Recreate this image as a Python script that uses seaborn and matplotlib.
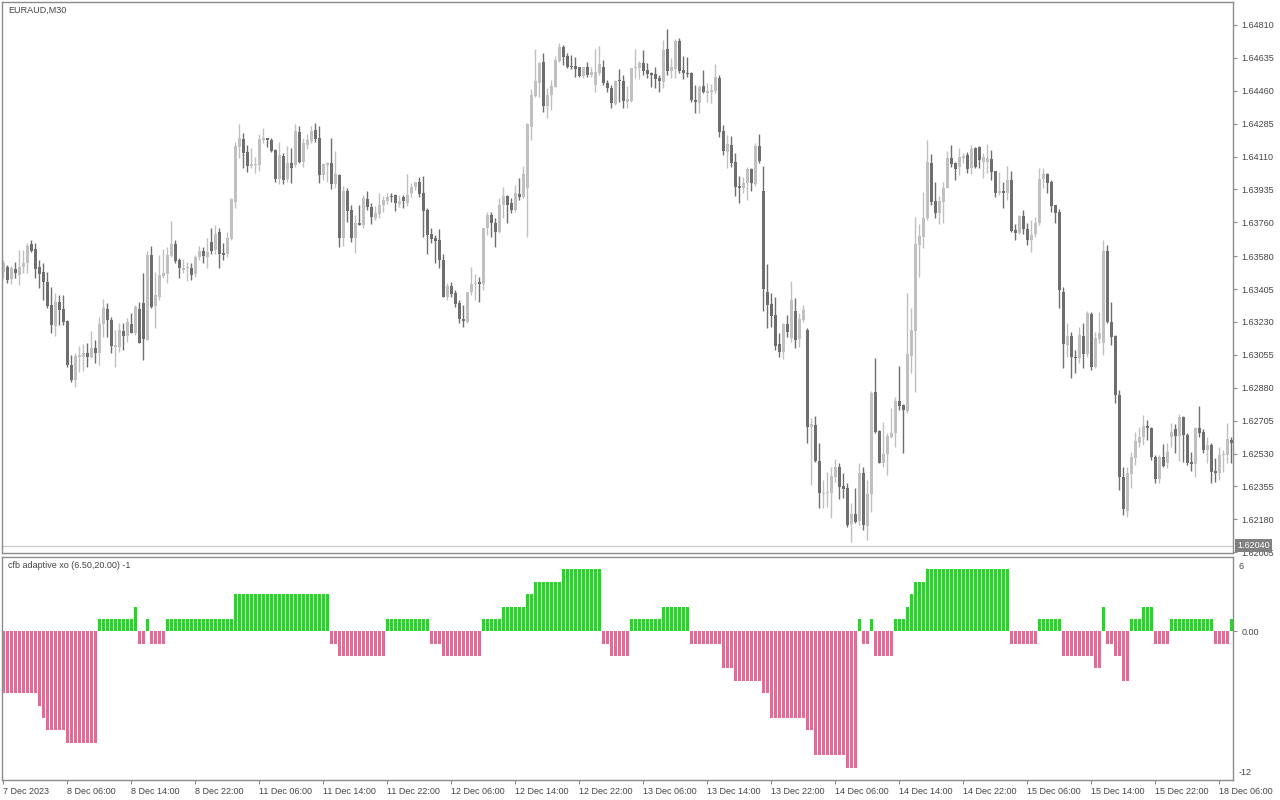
import numpy as np
import pandas as pd
import matplotlib
matplotlib.use('Agg')
import matplotlib.pyplot as plt
import matplotlib.transforms as mtransforms
import seaborn as sns

# ===================================================================
# Data : EURAUD M30 candles, oldest first
# ===================================================================

OPEN = [
    1.63496, 1.63523, 1.63459, 1.63512, 1.63480, 1.63523, 1.63544, 1.63645, 1.63618, 1.63523,
    1.63496, 1.63442, 1.63320, 1.63209, 1.63336, 1.63299, 1.63236, 1.63001, 1.62921, 1.63044,
    1.63044, 1.63065, 1.63044, 1.63092, 1.63065, 1.63220, 1.63299, 1.63241, 1.63098, 1.63098,
    1.63182, 1.63155, 1.63220, 1.63171, 1.63299, 1.63331, 1.63135, 1.63586, 1.63315, 1.63363,
    1.63475, 1.63486, 1.63581, 1.63645, 1.63560, 1.63507, 1.63518, 1.63518, 1.63486, 1.63576,
    1.63608, 1.63576, 1.63655, 1.63613, 1.63708, 1.63597, 1.63592, 1.63671, 1.63868, 1.64161,
    1.64203, 1.64134, 1.64060, 1.64065, 1.64065, 1.64198, 1.64209, 1.64198, 1.64145, 1.63990,
    1.64113, 1.63990, 1.64076, 1.64065, 1.64240, 1.64081, 1.64172, 1.64193, 1.64251, 1.64209,
    1.64012, 1.64065, 1.64076, 1.63964, 1.64012, 1.63677, 1.63927, 1.63826, 1.63677, 1.63757,
    1.63746, 1.63884, 1.63842, 1.63783, 1.63805, 1.63852, 1.63874, 1.63900, 1.63905, 1.63858,
    1.63895, 1.63863, 1.63916, 1.63948, 1.63974, 1.63916, 1.63826, 1.63698, 1.63677, 1.63666,
    1.63560, 1.63363, 1.63421, 1.63384, 1.63331, 1.63246, 1.63230, 1.63389, 1.63432, 1.63442,
    1.63432, 1.63730, 1.63799, 1.63757, 1.63708, 1.63852, 1.63900, 1.63863, 1.63826, 1.63911,
    1.63895, 1.63943, 1.64268, 1.64432, 1.64501, 1.64613, 1.64379, 1.64437, 1.64480, 1.64619,
    1.64693, 1.64645, 1.64592, 1.64592, 1.64587, 1.64539, 1.64587, 1.64544, 1.64490, 1.64555,
    1.64587, 1.64501, 1.64474, 1.64390, 1.64517, 1.64512, 1.64400, 1.64405, 1.64582, 1.64582,
    1.64608, 1.64571, 1.64555, 1.64549, 1.64528, 1.64507, 1.64682, 1.64565, 1.64576, 1.64725,
    1.64571, 1.64555, 1.64555, 1.64411, 1.64395, 1.64485, 1.64448, 1.64453, 1.64458, 1.64528,
    1.64246, 1.64134, 1.64172, 1.64081, 1.63953, 1.63943, 1.63969, 1.64044, 1.63964, 1.64166,
    1.63927, 1.63389, 1.63326, 1.63267, 1.63114, 1.63070, 1.63220, 1.63145, 1.63288, 1.63140,
    1.63241, 1.63187, 1.62672, 1.62682, 1.62490, 1.62315, 1.62320, 1.62320, 1.62405, 1.62459,
    1.62357, 1.62347, 1.62155, 1.62208, 1.62171, 1.62427, 1.62145, 1.62315, 1.62858, 1.62650,
    1.62480, 1.62528, 1.62618, 1.62640, 1.62810, 1.62788, 1.62757, 1.63049, 1.63182, 1.63640,
    1.63682, 1.63783, 1.64076, 1.63874, 1.63810, 1.63868, 1.63943, 1.64103, 1.64076, 1.64055,
    1.64103, 1.64118, 1.64050, 1.64156, 1.64161, 1.64081, 1.64081, 1.64097, 1.64034, 1.63916,
    1.63927, 1.63916, 1.63985, 1.63719, 1.63703, 1.63794, 1.63724, 1.63666, 1.63698, 1.63757,
    1.63990, 1.64018, 1.63974, 1.63852, 1.63815, 1.63389, 1.63108, 1.63155, 1.63044, 1.63038,
    1.63155, 1.63060, 1.63273, 1.62991, 1.63140, 1.63119, 1.63608, 1.63230, 1.63155, 1.62841,
    1.62405, 1.62224, 1.62421, 1.62507, 1.62586, 1.62618, 1.62677, 1.62666, 1.62512, 1.62394,
    1.62512, 1.62480, 1.62618, 1.62661, 1.62624, 1.62725, 1.62629, 1.62485, 1.62475, 1.62666,
    1.62645, 1.62549, 1.62576, 1.62437, 1.62427, 1.62522, 1.62522, 1.62602,
]

HIGH = [
    1.63560, 1.63533, 1.63528, 1.63549, 1.63613, 1.63613, 1.63650, 1.63666, 1.63650, 1.63560,
    1.63544, 1.63496, 1.63416, 1.63384, 1.63373, 1.63373, 1.63241, 1.63054, 1.63065, 1.63103,
    1.63114, 1.63119, 1.63182, 1.63135, 1.63257, 1.63352, 1.63331, 1.63257, 1.63187, 1.63225,
    1.63225, 1.63252, 1.63278, 1.63320, 1.63336, 1.63491, 1.63608, 1.63634, 1.63496, 1.63586,
    1.63618, 1.63629, 1.63768, 1.63666, 1.63571, 1.63565, 1.63549, 1.63544, 1.63586, 1.63634,
    1.63629, 1.63677, 1.63730, 1.63746, 1.63730, 1.63650, 1.63708, 1.63890, 1.64187, 1.64284,
    1.64235, 1.64172, 1.64156, 1.64108, 1.64230, 1.64262, 1.64209, 1.64209, 1.64150, 1.64187,
    1.64129, 1.64166, 1.64156, 1.64284, 1.64273, 1.64209, 1.64230, 1.64273, 1.64289, 1.64273,
    1.64076, 1.64081, 1.64209, 1.64140, 1.64018, 1.63953, 1.63943, 1.63852, 1.63799, 1.63852,
    1.63905, 1.63927, 1.63863, 1.63847, 1.63916, 1.63900, 1.63916, 1.63916, 1.63911, 1.63905,
    1.63905, 1.64018, 1.63969, 1.63974, 1.64001, 1.64006, 1.63837, 1.63730, 1.63692, 1.63724,
    1.63592, 1.63437, 1.63442, 1.63400, 1.63347, 1.63320, 1.63389, 1.63523, 1.63486, 1.63470,
    1.63730, 1.63815, 1.63815, 1.63783, 1.63890, 1.63948, 1.63905, 1.63890, 1.63958, 1.63996,
    1.64060, 1.64289, 1.64469, 1.64682, 1.64613, 1.64661, 1.64474, 1.64517, 1.64645, 1.64714,
    1.64703, 1.64661, 1.64650, 1.64640, 1.64587, 1.64587, 1.64613, 1.64587, 1.64682, 1.64698,
    1.64624, 1.64517, 1.64490, 1.64517, 1.64576, 1.64544, 1.64485, 1.64582, 1.64682, 1.64619,
    1.64677, 1.64608, 1.64560, 1.64587, 1.64544, 1.64730, 1.64788, 1.64635, 1.64735, 1.64741,
    1.64645, 1.64640, 1.64560, 1.64490, 1.64490, 1.64571, 1.64501, 1.64496, 1.64602, 1.64544,
    1.64278, 1.64225, 1.64219, 1.64129, 1.64006, 1.64001, 1.64055, 1.64050, 1.64182, 1.64230,
    1.64060, 1.63539, 1.63384, 1.63363, 1.63171, 1.63225, 1.63267, 1.63448, 1.63357, 1.63278,
    1.63320, 1.63198, 1.62720, 1.62730, 1.62586, 1.62389, 1.62432, 1.62459, 1.62501, 1.62480,
    1.62427, 1.62373, 1.62267, 1.62347, 1.62480, 1.62459, 1.62389, 1.62863, 1.63038, 1.62655,
    1.62698, 1.62640, 1.62773, 1.62831, 1.62996, 1.62794, 1.63384, 1.63304, 1.63789, 1.63752,
    1.63921, 1.64198, 1.64124, 1.63974, 1.63900, 1.63974, 1.64140, 1.64172, 1.64081, 1.64156,
    1.64129, 1.64134, 1.64172, 1.64161, 1.64166, 1.64129, 1.64177, 1.64145, 1.64034, 1.64028,
    1.63974, 1.64060, 1.64034, 1.63752, 1.63799, 1.63826, 1.63757, 1.63773, 1.63789, 1.64050,
    1.64050, 1.64023, 1.63985, 1.63852, 1.63831, 1.63416, 1.63225, 1.63177, 1.63081, 1.63204,
    1.63225, 1.63288, 1.63283, 1.63177, 1.63283, 1.63666, 1.63640, 1.63336, 1.63160, 1.62868,
    1.62459, 1.62459, 1.62538, 1.62645, 1.62672, 1.62735, 1.62709, 1.62672, 1.62522, 1.62522,
    1.62581, 1.62586, 1.62693, 1.62688, 1.62741, 1.62730, 1.62640, 1.62538, 1.62672, 1.62783,
    1.62661, 1.62618, 1.62586, 1.62507, 1.62565, 1.62549, 1.62693, 1.62618,
]

LOW = [
    1.63464, 1.63437, 1.63432, 1.63464, 1.63426, 1.63491, 1.63491, 1.63602, 1.63464, 1.63410,
    1.63347, 1.63304, 1.63171, 1.63155, 1.63214, 1.63214, 1.62991, 1.62910, 1.62884, 1.62964,
    1.62970, 1.62991, 1.63038, 1.63012, 1.63001, 1.63150, 1.63150, 1.63065, 1.62991, 1.63070,
    1.63081, 1.63124, 1.63171, 1.63160, 1.63119, 1.63028, 1.63135, 1.63304, 1.63198, 1.63347,
    1.63464, 1.63437, 1.63576, 1.63544, 1.63464, 1.63491, 1.63448, 1.63453, 1.63470, 1.63560,
    1.63544, 1.63518, 1.63592, 1.63592, 1.63518, 1.63560, 1.63576, 1.63666, 1.63837, 1.64103,
    1.64050, 1.64028, 1.64050, 1.64023, 1.64034, 1.64182, 1.64161, 1.64134, 1.63974, 1.63964,
    1.63964, 1.63974, 1.63969, 1.64055, 1.64076, 1.64055, 1.64150, 1.64182, 1.64187, 1.63969,
    1.63985, 1.63974, 1.63937, 1.63943, 1.63629, 1.63634, 1.63762, 1.63655, 1.63597, 1.63746,
    1.63730, 1.63826, 1.63752, 1.63773, 1.63783, 1.63815, 1.63858, 1.63868, 1.63821, 1.63842,
    1.63837, 1.63847, 1.63895, 1.63932, 1.63895, 1.63682, 1.63592, 1.63650, 1.63544, 1.63518,
    1.63363, 1.63347, 1.63363, 1.63310, 1.63225, 1.63204, 1.63225, 1.63373, 1.63347, 1.63336,
    1.63400, 1.63692, 1.63682, 1.63629, 1.63703, 1.63783, 1.63757, 1.63810, 1.63815, 1.63879,
    1.63890, 1.63682, 1.64198, 1.64427, 1.64427, 1.64347, 1.64315, 1.64358, 1.64480, 1.64613,
    1.64597, 1.64582, 1.64576, 1.64534, 1.64534, 1.64528, 1.64534, 1.64534, 1.64453, 1.64544,
    1.64490, 1.64453, 1.64369, 1.64384, 1.64400, 1.64369, 1.64369, 1.64400, 1.64528, 1.64523,
    1.64544, 1.64528, 1.64480, 1.64474, 1.64453, 1.64474, 1.64544, 1.64528, 1.64528, 1.64555,
    1.64523, 1.64534, 1.64400, 1.64342, 1.64342, 1.64448, 1.64400, 1.64395, 1.64448, 1.64214,
    1.64118, 1.64050, 1.64055, 1.63900, 1.63863, 1.63916, 1.63879, 1.63927, 1.63953, 1.64076,
    1.63288, 1.63198, 1.63204, 1.63081, 1.63044, 1.63033, 1.63150, 1.63124, 1.63092, 1.63098,
    1.63230, 1.62586, 1.62362, 1.62485, 1.62240, 1.62240, 1.62246, 1.62187, 1.62379, 1.62288,
    1.62294, 1.62139, 1.62059, 1.62161, 1.62150, 1.62123, 1.62070, 1.62219, 1.62640, 1.62480,
    1.62459, 1.62416, 1.62613, 1.62565, 1.62762, 1.62533, 1.62746, 1.62959, 1.62858, 1.63470,
    1.63624, 1.63773, 1.63852, 1.63783, 1.63752, 1.63757, 1.63943, 1.64055, 1.63985, 1.64012,
    1.64076, 1.64023, 1.64018, 1.64050, 1.64050, 1.63996, 1.64023, 1.63985, 1.63895, 1.63905,
    1.63837, 1.63879, 1.63708, 1.63666, 1.63698, 1.63698, 1.63640, 1.63602, 1.63682, 1.63746,
    1.63943, 1.63916, 1.63815, 1.63757, 1.63304, 1.62986, 1.63044, 1.62932, 1.62959, 1.63012,
    1.62986, 1.63044, 1.62975, 1.62986, 1.63119, 1.63054, 1.63225, 1.63108, 1.62799, 1.62336,
    1.62203, 1.62192, 1.62347, 1.62469, 1.62565, 1.62576, 1.62602, 1.62496, 1.62373, 1.62373,
    1.62459, 1.62453, 1.62565, 1.62533, 1.62490, 1.62485, 1.62469, 1.62437, 1.62405, 1.62618,
    1.62533, 1.62480, 1.62373, 1.62379, 1.62389, 1.62432, 1.62480, 1.62480,
]

CLOSE = [
    1.63544, 1.63453, 1.63518, 1.63491, 1.63523, 1.63544, 1.63634, 1.63608, 1.63512, 1.63486,
    1.63442, 1.63315, 1.63214, 1.63336, 1.63294, 1.63230, 1.63001, 1.62921, 1.63049, 1.63054,
    1.63065, 1.63044, 1.63092, 1.63065, 1.63220, 1.63305, 1.63241, 1.63103, 1.63108, 1.63187,
    1.63155, 1.63230, 1.63171, 1.63310, 1.63119, 1.63140, 1.63586, 1.63310, 1.63373, 1.63480,
    1.63491, 1.63586, 1.63645, 1.63555, 1.63518, 1.63518, 1.63523, 1.63480, 1.63576, 1.63608,
    1.63581, 1.63602, 1.63608, 1.63698, 1.63592, 1.63586, 1.63677, 1.63884, 1.64166, 1.64209,
    1.64129, 1.64060, 1.64071, 1.64071, 1.64203, 1.64209, 1.64198, 1.64140, 1.63990, 1.64118,
    1.63985, 1.64076, 1.64050, 1.64246, 1.64081, 1.64182, 1.64198, 1.64246, 1.64203, 1.64012,
    1.64071, 1.64076, 1.63964, 1.64018, 1.63677, 1.63927, 1.63821, 1.63677, 1.63757, 1.63746,
    1.63890, 1.63842, 1.63789, 1.63810, 1.63852, 1.63879, 1.63895, 1.63895, 1.63863, 1.63874,
    1.63874, 1.63905, 1.63948, 1.63974, 1.63911, 1.63821, 1.63692, 1.63671, 1.63661, 1.63560,
    1.63363, 1.63421, 1.63379, 1.63326, 1.63246, 1.63236, 1.63389, 1.63432, 1.63437, 1.63432,
    1.63730, 1.63799, 1.63757, 1.63708, 1.63852, 1.63900, 1.63852, 1.63826, 1.63916, 1.63895,
    1.64018, 1.64284, 1.64437, 1.64512, 1.64608, 1.64379, 1.64437, 1.64485, 1.64624, 1.64693,
    1.64640, 1.64587, 1.64587, 1.64576, 1.64539, 1.64587, 1.64544, 1.64560, 1.64560, 1.64602,
    1.64501, 1.64474, 1.64395, 1.64512, 1.64512, 1.64405, 1.64416, 1.64582, 1.64587, 1.64608,
    1.64565, 1.64549, 1.64544, 1.64523, 1.64512, 1.64677, 1.64565, 1.64587, 1.64725, 1.64565,
    1.64555, 1.64549, 1.64411, 1.64400, 1.64480, 1.64453, 1.64458, 1.64464, 1.64534, 1.64240,
    1.64140, 1.64177, 1.64076, 1.63948, 1.63943, 1.63969, 1.64044, 1.63969, 1.64166, 1.64087,
    1.63405, 1.63320, 1.63262, 1.63103, 1.63070, 1.63220, 1.63177, 1.63347, 1.63135, 1.63246,
    1.63294, 1.62672, 1.62688, 1.62490, 1.62320, 1.62320, 1.62321, 1.62411, 1.62459, 1.62352,
    1.62341, 1.62150, 1.62208, 1.62166, 1.62427, 1.62150, 1.62315, 1.62852, 1.62645, 1.62480,
    1.62528, 1.62624, 1.62640, 1.62810, 1.62783, 1.62762, 1.63060, 1.63187, 1.63645, 1.63687,
    1.63783, 1.64081, 1.63868, 1.63810, 1.63874, 1.63943, 1.64103, 1.64071, 1.64044, 1.64108,
    1.64113, 1.64044, 1.64150, 1.64055, 1.64092, 1.64108, 1.64103, 1.64028, 1.63916, 1.63927,
    1.63916, 1.63985, 1.63714, 1.63703, 1.63794, 1.63724, 1.63666, 1.63692, 1.63757, 1.63990,
    1.64018, 1.63969, 1.63847, 1.63810, 1.63400, 1.63114, 1.63155, 1.63044, 1.63038, 1.63160,
    1.63060, 1.63278, 1.62991, 1.63145, 1.63171, 1.63608, 1.63230, 1.63150, 1.62841, 1.62405,
    1.62235, 1.62427, 1.62512, 1.62597, 1.62618, 1.62677, 1.62666, 1.62512, 1.62394, 1.62512,
    1.62464, 1.62538, 1.62645, 1.62624, 1.62725, 1.62629, 1.62480, 1.62475, 1.62666, 1.62640,
    1.62549, 1.62576, 1.62432, 1.62427, 1.62522, 1.62528, 1.62608, 1.62586,
]

# cfb adaptive xo histogram, one bar per candle, given as runs (level, bars)
XO_LEVELS = [-5, -6, -7, -8, -9, 1, 2, -1, 1, -1, 1, 3, -1, -2, 1, -1, -2,
             1, 2, 3, 4, 5, -1, -2, 1, 2, -1, -3, -4, -5, -7, -8, -10, -11,
             1, -1, 1, -2, 1, 2, 3, 4, 5, -1, 1, -2, -3, 2, -1, -2, -4,
             1, 2, -1, 1, -1, 1]
XO_COUNTS = [9, 1, 1, 5, 8, 9, 1, 2, 1, 4, 17, 24, 2, 12, 11, 3, 10,
             5, 6, 2, 7, 10, 2, 5, 8, 7, 8, 3, 7, 2, 9, 2, 8, 3,
             1, 2, 1, 5, 3, 1, 1, 3, 21, 7, 6, 8, 2, 1, 2, 2, 2,
             3, 3, 4, 11, 4, 1]

# one time label every 16 bars (8 hours)
TIME_LABELS = ['7 Dec 2023', '8 Dec 06:00', '8 Dec 14:00', '8 Dec 22:00', '11 Dec 06:00',
               '11 Dec 14:00', '11 Dec 22:00', '12 Dec 06:00', '12 Dec 14:00', '12 Dec 22:00',
               '13 Dec 06:00', '13 Dec 14:00', '13 Dec 22:00', '14 Dec 06:00', '14 Dec 14:00',
               '14 Dec 22:00', '15 Dec 06:00', '15 Dec 14:00', '15 Dec 22:00', '18 Dec 06:00']
PRICE_TICKS = [1.64810, 1.64635, 1.64460, 1.64285, 1.64110, 1.63935, 1.63760, 1.63580,
               1.63405, 1.63230, 1.63055, 1.62880, 1.62705, 1.62530, 1.62355, 1.62180, 1.62005]
LEVEL_LINE = 1.62040

# ===================================================================
# Style
# ===================================================================
sns.set_style('white')
plt.rcParams['font.family'] = ['Liberation Sans', 'DejaVu Sans']

BULL = '#c0c0c0'
BEAR = '#6e6e6e'
XO_UP = '#32cd32'
XO_DOWN = '#db7093'
FRAME = '#8c8c8c'
TXT = '#444444'
FS = 6.5

o = np.array(OPEN)
h = np.array(HIGH)
l = np.array(LOW)
c = np.array(CLOSE)
n = len(o)
idx = np.arange(n)
up = c >= o
cols = np.where(up, BULL, BEAR)

xo = np.repeat(XO_LEVELS, XO_COUNTS)
assert len(xo) == n, (len(xo), n)

fig = plt.figure(figsize=(12.8, 8), dpi=100)
ax1 = fig.add_axes([2 / 1280, 247 / 800, 1231 / 1280, 551 / 800])
ax2 = fig.add_axes([2 / 1280, 20 / 800, 1231 / 1280, 223 / 800])

XMIN, XMAX = -0.33, 307.45

# --- price panel ---
ax1.vlines(idx, l, h, colors=cols, linewidth=1)
body_low = np.minimum(o, c)
body_h = np.maximum(np.abs(c - o), 0.00005)
ax1.bar(idx, body_h, bottom=body_low, width=0.75, color=cols, linewidth=0)
ax1.axhline(LEVEL_LINE, color='#cfcfcf', lw=1, zorder=0)

ax1.set_xlim(XMIN, XMAX)
ax1.set_ylim(1.62001, 1.64932)
ax1.set_xticks([])
ax1.yaxis.tick_right()
ax1.set_yticks(PRICE_TICKS)
ax1.set_yticklabels([f'{p:.5f}' for p in PRICE_TICKS])
ax1.tick_params(axis='y', right=True, length=3, width=0.8, color=FRAME,
                labelsize=FS, labelcolor=TXT, pad=3)
ax1.text(0.0049, 0.9855, 'EURAUD,M30', transform=ax1.transAxes, fontsize=FS,
         color=TXT, va='center', ha='left')

# label box of the horizontal level
tr = mtransforms.blended_transform_factory(ax1.transAxes, ax1.transData)
ax1.text(1.0035, LEVEL_LINE, f'{LEVEL_LINE:.5f}', transform=tr, fontsize=FS,
         color='white', va='center', ha='left', zorder=10,
         bbox=dict(boxstyle='square,pad=0.25', fc='#808080', ec='none'))

# --- indicator panel ---
df = pd.DataFrame({'bar': idx, 'xo': xo, 'side': np.where(xo > 0, 'up', 'down')})
sns.barplot(data=df, x='bar', y='xo', hue='side', palette={'up': XO_UP, 'down': XO_DOWN},
            native_scale=True, width=0.75, dodge=False, saturation=1, errorbar=None,
            legend=False, linewidth=0, ax=ax2)
ax2.set_xlim(XMIN, XMAX)
ax2.set_ylim(-12, 6)
ax2.set_xlabel('')
ax2.set_ylabel('')
ax2.yaxis.tick_right()
ax2.set_yticks([0])
ax2.set_yticklabels(['0.00'])
ax2.tick_params(axis='y', right=True, length=3, width=0.8, color=FRAME,
                labelsize=FS, labelcolor=TXT, pad=3)
tr2 = mtransforms.blended_transform_factory(ax2.transAxes, ax2.transData)
ax2.text(1.0045, 5.6, '6', transform=tr2, fontsize=FS, color=TXT, va='top', ha='left')
ax2.text(1.0045, -11.75, '-12', transform=tr2, fontsize=FS, color=TXT, va='bottom', ha='left')
ax2.text(0.0049, 0.96, 'cfb adaptive xo (6.50,20.00) -1', transform=ax2.transAxes,
         fontsize=FS, color=TXT, va='center', ha='left')

ax2.set_xticks(idx[::16])
ax2.set_xticklabels(TIME_LABELS, ha='left')
ax2.tick_params(axis='x', bottom=True, length=3, width=0.8, color=FRAME,
                labelsize=FS, labelcolor=TXT, pad=2)

for ax in (ax1, ax2):
    for s in ax.spines.values():
        s.set_color(FRAME)
        s.set_linewidth(1)

plt.savefig('out.png', dpi=100)
print('saved out.png')
